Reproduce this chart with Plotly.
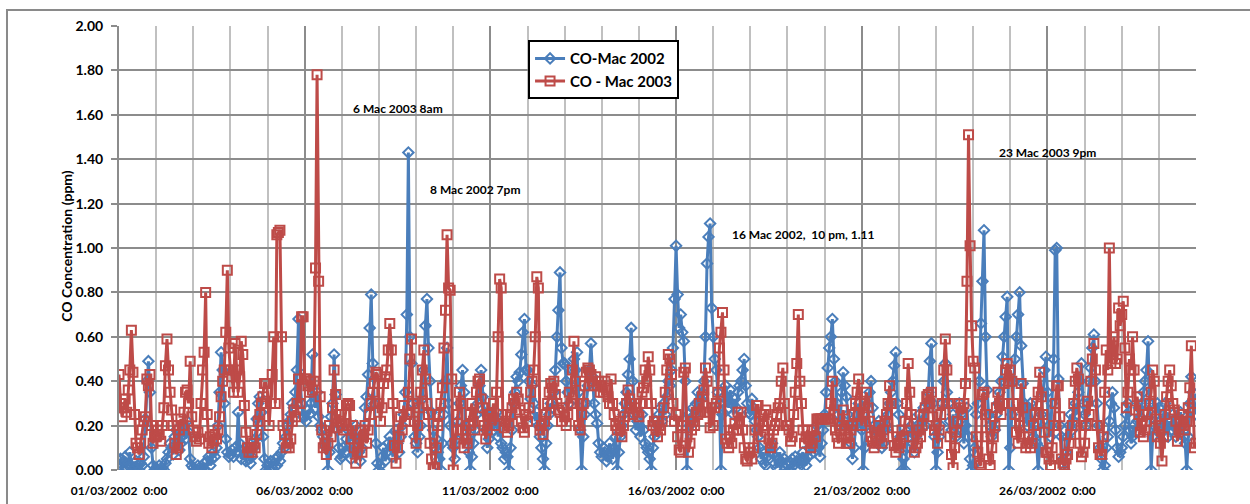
import plotly.graph_objects as go

# hourly CO readings (ppm), one row per day, 1 March onwards
co_2002 = [
    0.02,0.05,0.00,0.04,0.06,0.01,0.03,0.08,0.02,0.00,0.01,0.04,0.02,0.00,0.03,0.02,0.06,0.23,0.40,0.49,0.35,0.10,0.02,0.00,
    0.01,0.00,0.02,0.00,0.01,0.00,0.03,0.05,0.08,0.12,0.10,0.07,0.15,0.18,0.13,0.09,0.12,0.20,0.16,0.14,0.22,0.17,0.05,0.02,
    0.01,0.00,0.00,0.02,0.01,0.00,0.01,0.03,0.00,0.04,0.06,0.02,0.05,0.08,0.06,0.10,0.20,0.35,0.53,0.45,0.30,0.14,0.08,0.06,
    0.07,0.09,0.06,0.10,0.08,0.26,0.12,0.05,0.09,0.07,0.04,0.08,0.05,0.03,0.06,0.10,0.14,0.23,0.30,0.33,0.26,0.15,0.05,0.00,
    0.02,0.00,0.04,0.01,0.03,0.05,0.02,0.06,0.04,0.08,0.12,0.10,0.15,0.20,0.22,0.25,0.30,0.28,0.35,0.45,0.68,0.42,0.30,0.24,
    0.24,0.22,0.27,0.25,0.30,0.52,0.33,0.28,0.35,0.24,0.20,0.18,0.15,0.12,0.10,0.00,0.08,0.24,0.30,0.52,0.34,0.18,0.10,0.05,
    0.06,0.10,0.08,0.14,0.18,0.12,0.05,0.09,0.15,0.20,0.12,0.08,0.04,0.10,0.16,0.28,0.33,0.43,0.64,0.79,0.48,0.30,0.12,0.03,
    0.00,0.02,0.06,0.10,0.04,0.08,0.12,0.15,0.10,0.06,0.13,0.18,0.12,0.08,0.15,0.20,0.25,0.35,0.70,1.43,0.60,0.48,0.30,0.15,
    0.12,0.08,0.15,0.20,0.32,0.45,0.65,0.77,0.55,0.40,0.26,0.18,0.10,0.14,0.08,0.05,0.00,0.12,0.25,0.40,0.55,0.30,0.20,0.12,
    0.10,0.05,0.14,0.22,0.30,0.38,0.45,0.35,0.20,0.15,0.08,0.00,0.06,0.12,0.18,0.25,0.30,0.38,0.45,0.33,0.26,0.18,0.10,0.14,
    0.22,0.25,0.18,0.20,0.26,0.15,0.22,0.12,0.10,0.05,0.08,0.06,0.00,0.10,0.18,0.30,0.35,0.42,0.40,0.44,0.52,0.62,0.68,0.45,
    0.45,0.40,0.32,0.38,0.30,0.22,0.26,0.20,0.15,0.10,0.05,0.00,0.12,0.20,0.25,0.30,0.28,0.35,0.45,0.60,0.72,0.89,0.55,0.48,
    0.48,0.40,0.35,0.30,0.38,0.45,0.50,0.45,0.53,0.35,0.18,0.00,0.15,0.25,0.30,0.38,0.45,0.57,0.42,0.30,0.25,0.21,0.12,0.08,
    0.06,0.10,0.08,0.04,0.06,0.12,0.08,0.05,0.10,0.15,0.00,0.08,0.15,0.20,0.25,0.30,0.35,0.43,0.50,0.64,0.40,0.25,0.18,0.22,
    0.20,0.15,0.25,0.18,0.12,0.10,0.08,0.05,0.00,0.10,0.15,0.22,0.20,0.25,0.28,0.22,0.30,0.25,0.33,0.40,0.38,0.45,0.55,0.77,
    1.01,0.79,0.64,0.70,0.62,0.58,0.40,0.00,0.25,0.20,0.22,0.28,0.25,0.30,0.35,0.28,0.32,0.35,0.40,0.60,0.93,1.05,1.11,0.73,
    0.60,0.50,0.45,0.35,0.30,0.00,0.25,0.30,0.38,0.33,0.28,0.36,0.30,0.25,0.32,0.28,0.35,0.38,0.40,0.45,0.50,0.38,0.30,0.26,
    0.25,0.32,0.28,0.22,0.18,0.15,0.10,0.05,0.08,0.03,0.02,0.06,0.10,0.08,0.12,0.07,0.03,0.01,0.05,0.08,0.04,0.02,0.05,0.03,
    0.02,0.00,0.03,0.05,0.02,0.06,0.04,0.01,0.03,0.05,0.08,0.04,0.02,0.06,0.10,0.07,0.12,0.08,0.15,0.20,0.10,0.06,0.12,0.18,
    0.25,0.35,0.46,0.55,0.60,0.68,0.50,0.40,0.30,0.25,0.20,0.35,0.44,0.38,0.33,0.25,0.20,0.12,0.05,0.10,0.20,0.25,0.30,0.22,
    0.18,0.00,0.10,0.20,0.30,0.35,0.40,0.28,0.20,0.15,0.18,0.22,0.15,0.10,0.12,0.18,0.20,0.25,0.30,0.35,0.40,0.47,0.53,0.30,
    0.25,0.15,0.00,0.05,0.00,0.10,0.18,0.15,0.20,0.12,0.08,0.15,0.20,0.25,0.18,0.22,0.28,0.20,0.30,0.35,0.49,0.57,0.30,0.15,
    0.00,0.08,0.15,0.20,0.30,0.40,0.48,0.35,0.30,0.22,0.18,0.25,0.20,0.15,0.22,0.30,0.25,0.18,0.12,0.20,0.28,0.15,0.05,0.00,
    0.02,0.10,0.25,0.30,0.40,0.66,0.85,1.08,0.60,0.36,0.25,0.20,0.15,0.22,0.18,0.25,0.30,0.35,0.40,0.51,0.60,0.69,0.78,0.00,
    0.10,0.25,0.40,0.50,0.60,0.70,0.80,0.56,0.39,0.30,0.25,0.20,0.28,0.30,0.22,0.15,0.20,0.12,0.00,0.10,0.25,0.35,0.45,0.51,
    0.35,0.20,0.15,0.30,0.50,0.99,1.00,0.41,0.20,0.15,0.05,0.00,0.08,0.15,0.20,0.25,0.18,0.22,0.30,0.25,0.35,0.40,0.48,0.30,
    0.25,0.20,0.30,0.40,0.46,0.55,0.61,0.40,0.30,0.20,0.10,0.05,0.00,0.02,0.10,0.15,0.22,0.30,0.35,0.28,0.18,0.10,0.06,0.08,
    0.10,0.15,0.20,0.25,0.30,0.18,0.12,0.15,0.20,0.17,0.22,0.28,0.24,0.30,0.35,0.40,0.45,0.58,0.30,0.00,0.15,0.20,0.25,0.30,
    0.28,0.22,0.18,0.25,0.30,0.20,0.15,0.22,0.18,0.25,0.20,0.15,0.18,0.22,0.26,0.20,0.15,0.12,0.00,0.15,0.30,0.42,0.35,0.31,
    0.25,
]

co_2003 = [
    0.43,0.30,0.24,0.28,0.32,0.26,0.36,0.45,0.63,0.44,0.25,0.12,0.10,0.07,0.12,0.18,0.22,0.24,0.41,0.38,0.43,0.20,0.12,0.15,
    0.15,0.18,0.16,0.13,0.20,0.28,0.47,0.59,0.45,0.35,0.27,0.20,0.12,0.07,0.10,0.18,0.23,0.20,0.26,0.35,0.36,0.30,0.49,0.24,
    0.18,0.15,0.13,0.17,0.14,0.30,0.45,0.53,0.80,0.25,0.12,0.15,0.10,0.13,0.16,0.14,0.18,0.24,0.33,0.40,0.45,0.62,0.90,0.55,
    0.45,0.42,0.35,0.57,0.45,0.35,0.42,0.58,0.52,0.29,0.17,0.10,0.08,0.10,0.08,0.12,0.10,0.16,0.22,0.25,0.30,0.33,0.39,0.39,
    0.35,0.20,0.30,0.43,0.60,0.30,1.06,1.07,1.08,0.60,0.20,0.16,0.10,0.12,0.10,0.14,0.22,0.27,0.24,0.30,0.41,0.30,0.69,0.69,
    0.41,0.41,0.38,0.35,0.40,0.36,0.40,0.91,1.78,0.85,0.33,0.18,0.10,0.12,0.07,0.12,0.20,0.15,0.28,0.45,0.34,0.19,0.25,0.22,
    0.20,0.18,0.25,0.29,0.30,0.29,0.14,0.20,0.10,0.03,0.08,0.12,0.18,0.08,0.15,0.20,0.12,0.18,0.25,0.30,0.35,0.39,0.44,0.43,
    0.30,0.22,0.28,0.39,0.42,0.45,0.54,0.66,0.54,0.30,0.11,0.03,0.10,0.15,0.24,0.18,0.29,0.22,0.25,0.35,0.50,0.59,0.30,0.22,
    0.12,0.20,0.28,0.35,0.45,0.54,0.41,0.30,0.25,0.12,0.05,0.01,0.01,0.10,0.20,0.25,0.30,0.37,0.55,0.72,1.06,0.82,0.81,0.41,
    0.00,0.12,0.18,0.25,0.35,0.30,0.18,0.10,0.14,0.12,0.20,0.25,0.30,0.22,0.18,0.35,0.40,0.41,0.32,0.28,0.20,0.14,0.18,0.25,
    0.25,0.23,0.30,0.20,0.35,0.60,0.86,0.82,0.25,0.19,0.22,0.17,0.20,0.25,0.28,0.32,0.30,0.35,0.32,0.27,0.22,0.19,0.17,0.25,
    0.22,0.28,0.35,0.40,0.45,0.60,0.87,0.82,0.18,0.20,0.16,0.22,0.25,0.30,0.35,0.39,0.37,0.40,0.34,0.30,0.27,0.26,0.22,0.28,
    0.24,0.20,0.25,0.35,0.30,0.45,0.58,0.40,0.30,0.20,0.18,0.25,0.30,0.38,0.44,0.46,0.45,0.43,0.40,0.38,0.42,0.38,0.40,0.35,
    0.38,0.35,0.40,0.36,0.33,0.30,0.41,0.30,0.25,0.20,0.18,0.22,0.18,0.15,0.20,0.24,0.30,0.36,0.32,0.28,0.25,0.30,0.28,0.26,
    0.24,0.30,0.35,0.37,0.45,0.40,0.51,0.45,0.30,0.20,0.22,0.18,0.15,0.20,0.18,0.22,0.28,0.35,0.45,0.52,0.50,0.43,0.30,0.22,
    0.25,0.15,0.09,0.08,0.20,0.44,0.46,0.15,0.08,0.12,0.18,0.22,0.20,0.26,0.25,0.30,0.26,0.33,0.36,0.46,0.40,0.26,0.19,0.28,
    0.20,0.28,0.30,0.35,0.55,0.62,0.71,0.45,0.14,0.12,0.10,0.15,0.12,0.18,0.21,0.18,0.26,0.22,0.26,0.18,0.10,0.05,0.04,0.08,
    0.08,0.05,0.10,0.18,0.29,0.29,0.22,0.15,0.20,0.25,0.27,0.22,0.14,0.10,0.12,0.18,0.20,0.25,0.28,0.30,0.40,0.46,0.30,0.20,
    0.20,0.18,0.13,0.15,0.25,0.35,0.48,0.70,0.40,0.30,0.18,0.12,0.15,0.18,0.14,0.10,0.12,0.18,0.15,0.23,0.23,0.23,0.23,0.23,
    0.23,0.23,0.23,0.23,0.30,0.40,0.25,0.18,0.15,0.12,0.18,0.20,0.27,0.18,0.12,0.15,0.12,0.18,0.20,0.25,0.30,0.35,0.41,0.30,
    0.20,0.25,0.30,0.35,0.28,0.22,0.15,0.13,0.10,0.12,0.17,0.20,0.15,0.12,0.18,0.22,0.25,0.30,0.38,0.30,0.15,0.11,0.08,0.12,
    0.10,0.12,0.18,0.15,0.22,0.30,0.48,0.35,0.25,0.15,0.08,0.10,0.12,0.18,0.15,0.20,0.25,0.28,0.33,0.34,0.30,0.35,0.24,0.18,
    0.20,0.12,0.18,0.25,0.30,0.45,0.59,0.45,0.30,0.15,0.07,0.01,0.10,0.17,0.22,0.30,0.28,0.25,0.30,0.39,0.85,1.51,1.01,0.65,
    0.49,0.46,0.15,0.08,0.03,0.02,0.34,0.35,0.25,0.15,0.05,0.02,0.10,0.15,0.20,0.28,0.35,0.30,0.25,0.30,0.39,0.45,0.48,0.40,
    0.45,0.40,0.30,0.25,0.17,0.12,0.20,0.39,0.28,0.15,0.10,0.12,0.15,0.10,0.12,0.20,0.25,0.30,0.35,0.44,0.33,0.25,0.17,0.08,
    0.08,0.05,0.02,0.10,0.20,0.30,0.38,0.38,0.24,0.05,0.03,0.02,0.05,0.07,0.12,0.16,0.20,0.30,0.40,0.46,0.41,0.12,0.06,0.08,
    0.12,0.20,0.31,0.25,0.40,0.50,0.57,0.45,0.20,0.10,0.07,0.07,0.15,0.35,0.54,0.45,1.00,0.48,0.52,0.60,0.48,0.50,0.73,0.65,
    0.70,0.76,0.55,0.28,0.35,0.50,0.45,0.60,0.45,0.27,0.33,0.25,0.17,0.20,0.15,0.18,0.22,0.25,0.30,0.35,0.45,0.40,0.23,0.15,
    0.20,0.12,0.04,0.15,0.25,0.33,0.40,0.45,0.38,0.30,0.27,0.22,0.13,0.18,0.22,0.25,0.20,0.18,0.22,0.28,0.37,0.56,0.30,0.10,
    0.12,
]

hours = list(range(len(co_2002)))
tick_hours = [0, 120, 240, 360, 480, 600]
tick_labels = ["01/03/2002", "06/03/2002", "11/03/2002", "16/03/2002", "21/03/2002", "26/03/2002"]
tick_text = [t + "\u00a0\u00a00:00" for t in tick_labels]

FONT = "Lato"
BLUE = "#4a7ebb"
RED = "#be4b48"

fig = go.Figure()

fig.add_trace(go.Scatter(
    x=hours, y=co_2002, name="CO-Mac 2002", mode="lines+markers", legendgroup="a",
    line=dict(color=BLUE, width=3),
    marker=dict(symbol="diamond-open", size=8, color=BLUE, line=dict(width=2))))

fig.add_trace(go.Scatter(
    x=hours, y=co_2003, name="CO - Mac 2003", mode="lines+markers", legendgroup="b",
    line=dict(color=RED, width=3),
    marker=dict(symbol="square-open", size=9, color=RED, line=dict(width=2))))

notes = [
    (180, 1.63, "6 Mac 2003 8am"),
    (230, 1.265, "8 Mac 2002 7pm"),
    (442, 1.063, "16 Mac 2002,\u00a0\u00a010 pm, 1.11"),
    (600, 1.43, "23 Mac 2003 9pm"),
]
for hx, vy, txt in notes:
    fig.add_annotation(x=hx, y=vy, text=txt, showarrow=False,
                       font=dict(family=FONT, size=12, color="black", weight="bold"))

# y axis title
fig.add_annotation(x=-0.0483, y=0.505, xref="paper", yref="paper", xanchor="center", yanchor="middle",
                   text="CO Concentration (ppm)", textangle=-90, showarrow=False,
                   font=dict(family=FONT, size=14, color="black", weight="bold"))

# chart area border
fig.add_shape(type="rect", xref="paper", yref="paper", x0=-0.104, x1=1.3, y0=-0.3, y1=1.036,
              line=dict(color="#8a8a8a", width=2), layer="below")

fig.update_layout(
    width=1250, height=504,
    margin=dict(l=119, r=54, t=26, b=34),
    paper_bgcolor="white", plot_bgcolor="white",
    font=dict(family=FONT, color="black"),
    showlegend=True,
    legend=dict(x=0.3798, y=0.968, xanchor="left", yanchor="top",
                bgcolor="white", bordercolor="black", borderwidth=2,
                font=dict(family=FONT, size=15, color="black", weight="bold"),
                traceorder="grouped", tracegroupgap=0, itemwidth=30),
    xaxis=dict(range=[0, 696], tickmode="array", tickvals=tick_hours, ticktext=tick_text,
               showgrid=True, gridcolor="#8c8c8c", gridwidth=1.5,
               minor=dict(tickmode="linear", tick0=0, dtick=24, showgrid=True,
                          gridcolor="#c0c0c0", gridwidth=1.5),
               ticks="", zeroline=False, showline=False, automargin=False,
               tickfont=dict(family=FONT, size=12, color="black", weight="bold"),
               ticklabelstandoff=12),
    yaxis=dict(range=[0, 2.0], dtick=0.2, tick0=0, tickformat=".2f",
               showgrid=True, gridcolor="#8c8c8c", gridwidth=2,
               ticks="outside", ticklen=6, tickcolor="#8c8c8c", tickwidth=2,
               zeroline=False, showline=True, linecolor="#8c8c8c", linewidth=2,
               automargin=False,
               tickfont=dict(family=FONT, size=14, color="black", weight="bold"),
               ticklabelstandoff=5),
)

fig.write_html("out.html", config={"displayModeBar": False},
               post_script="document.body.style.margin='0';")
